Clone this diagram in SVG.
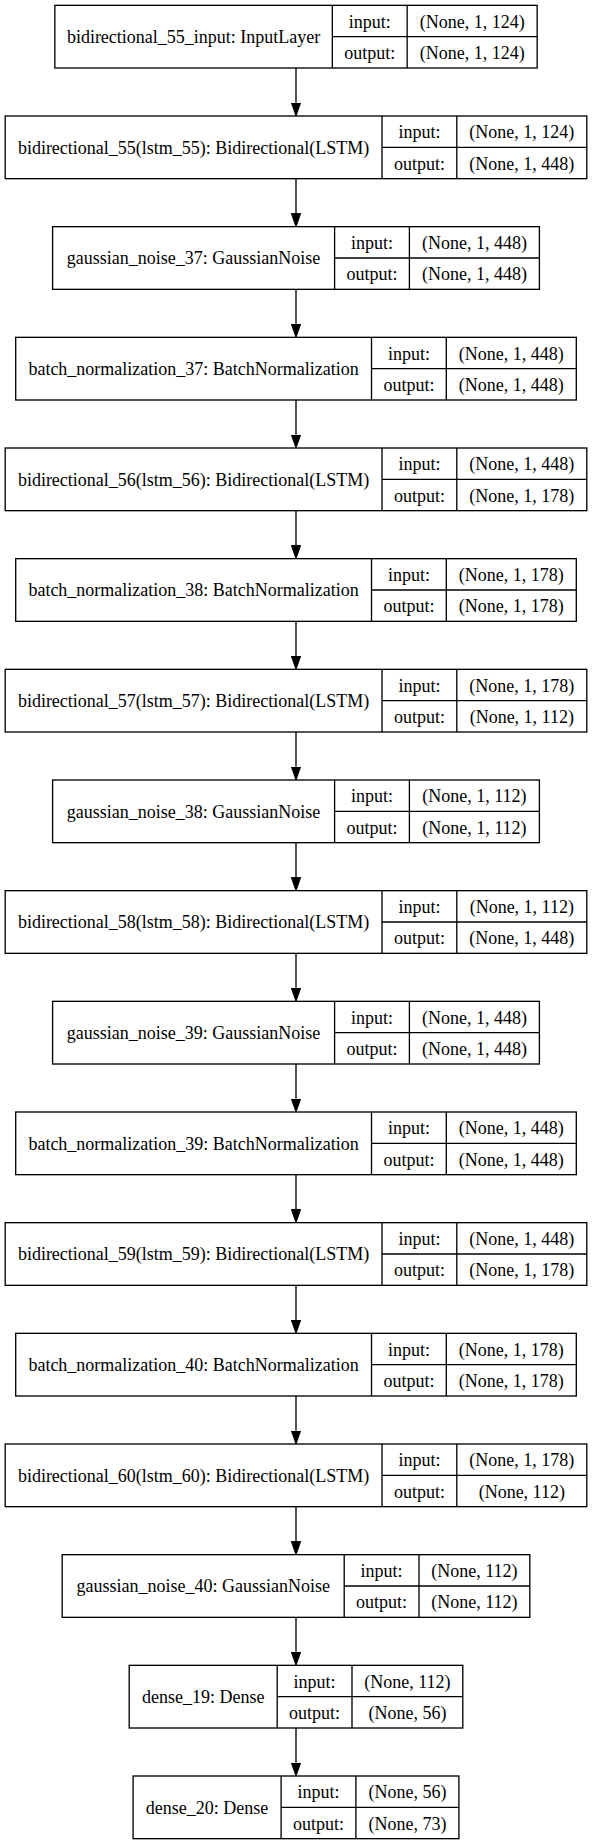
<svg xmlns="http://www.w3.org/2000/svg" width="592" height="1844" viewBox="0 0 592 1844">
<style>
rect{fill:#fff;stroke:#000;stroke-width:1.33}
line{stroke:#000;stroke-width:1.33}
text{font-family:'Liberation Serif','DejaVu Serif',serif;font-size:18px;fill:#000;text-anchor:middle}
.e{stroke:#000;stroke-width:1.33;fill:none;marker-end:url(#ah)}
</style>
<defs>
<marker id="ah" markerUnits="userSpaceOnUse" markerWidth="13.33" markerHeight="9.33" viewBox="0 0 13.33 9.33" refX="0" refY="4.67" orient="auto">
<path d="M0,0 L13.33,4.67 L0,9.33 z" fill="#000" stroke="#000" stroke-width="1"/>
</marker>
</defs>
<rect x="0" y="0" width="592" height="1844" style="fill:#fff;stroke:none"/>
<g id="connectors">
<path class="e" d="M296,68 V102.67"/>
<path class="e" d="M296,178.67 V213.33"/>
<path class="e" d="M296,289.33 V324"/>
<path class="e" d="M296,400 V434.67"/>
<path class="e" d="M296,510.67 V545.33"/>
<path class="e" d="M296,621.33 V656"/>
<path class="e" d="M296,732 V766.67"/>
<path class="e" d="M296,842.67 V877.33"/>
<path class="e" d="M296,953.33 V988"/>
<path class="e" d="M296,1064 V1098.67"/>
<path class="e" d="M296,1174.67 V1209.33"/>
<path class="e" d="M296,1285.33 V1320"/>
<path class="e" d="M296,1396 V1430.67"/>
<path class="e" d="M296,1506.67 V1541.33"/>
<path class="e" d="M296,1617.33 V1652"/>
<path class="e" d="M296,1728 V1762.67"/>
</g>
<g font-family="Liberation Serif, DejaVu Serif, serif">
<g id="n0" transform="translate(0,5.33)">
<rect x="54.85" y="0" width="482.3" height="62.67"/>
<line x1="332.35" y1="0" x2="332.35" y2="62.67"/><line x1="407.15" y1="0" x2="407.15" y2="62.67"/><line x1="332.35" y1="31.33" x2="537.15" y2="31.33"/>
<text x="193.6" y="37.8">bidirectional_55_input: InputLayer</text>
<text x="369.75" y="22.2">input:</text><text x="369.75" y="53.5">output:</text>
<text x="472.15" y="22.2">(None, 1, 124)</text><text x="472.15" y="53.5">(None, 1, 124)</text>
</g>
<g id="n1" transform="translate(0,116)">
<rect x="5.2" y="0" width="581.6" height="62.67"/>
<line x1="382" y1="0" x2="382" y2="62.67"/><line x1="456.8" y1="0" x2="456.8" y2="62.67"/><line x1="382" y1="31.33" x2="586.8" y2="31.33"/>
<text x="193.6" y="37.8">bidirectional_55(lstm_55): Bidirectional(LSTM)</text>
<text x="419.4" y="22.2">input:</text><text x="419.4" y="53.5">output:</text>
<text x="521.8" y="22.2">(None, 1, 124)</text><text x="521.8" y="53.5">(None, 1, 448)</text>
</g>
<g id="n2" transform="translate(0,226.67)">
<rect x="52.6" y="0" width="486.8" height="62.67"/>
<line x1="334.6" y1="0" x2="334.6" y2="62.67"/><line x1="409.4" y1="0" x2="409.4" y2="62.67"/><line x1="334.6" y1="31.33" x2="539.4" y2="31.33"/>
<text x="193.6" y="37.8">gaussian_noise_37: GaussianNoise</text>
<text x="372" y="22.2">input:</text><text x="372" y="53.5">output:</text>
<text x="474.4" y="22.2">(None, 1, 448)</text><text x="474.4" y="53.5">(None, 1, 448)</text>
</g>
<g id="n3" transform="translate(0,337.33)">
<rect x="15.7" y="0" width="560.6" height="62.67"/>
<line x1="371.5" y1="0" x2="371.5" y2="62.67"/><line x1="446.3" y1="0" x2="446.3" y2="62.67"/><line x1="371.5" y1="31.33" x2="576.3" y2="31.33"/>
<text x="193.6" y="37.8">batch_normalization_37: BatchNormalization</text>
<text x="408.9" y="22.2">input:</text><text x="408.9" y="53.5">output:</text>
<text x="511.3" y="22.2">(None, 1, 448)</text><text x="511.3" y="53.5">(None, 1, 448)</text>
</g>
<g id="n4" transform="translate(0,448)">
<rect x="5.2" y="0" width="581.6" height="62.67"/>
<line x1="382" y1="0" x2="382" y2="62.67"/><line x1="456.8" y1="0" x2="456.8" y2="62.67"/><line x1="382" y1="31.33" x2="586.8" y2="31.33"/>
<text x="193.6" y="37.8">bidirectional_56(lstm_56): Bidirectional(LSTM)</text>
<text x="419.4" y="22.2">input:</text><text x="419.4" y="53.5">output:</text>
<text x="521.8" y="22.2">(None, 1, 448)</text><text x="521.8" y="53.5">(None, 1, 178)</text>
</g>
<g id="n5" transform="translate(0,558.67)">
<rect x="15.7" y="0" width="560.6" height="62.67"/>
<line x1="371.5" y1="0" x2="371.5" y2="62.67"/><line x1="446.3" y1="0" x2="446.3" y2="62.67"/><line x1="371.5" y1="31.33" x2="576.3" y2="31.33"/>
<text x="193.6" y="37.8">batch_normalization_38: BatchNormalization</text>
<text x="408.9" y="22.2">input:</text><text x="408.9" y="53.5">output:</text>
<text x="511.3" y="22.2">(None, 1, 178)</text><text x="511.3" y="53.5">(None, 1, 178)</text>
</g>
<g id="n6" transform="translate(0,669.33)">
<rect x="5.2" y="0" width="581.6" height="62.67"/>
<line x1="382" y1="0" x2="382" y2="62.67"/><line x1="456.8" y1="0" x2="456.8" y2="62.67"/><line x1="382" y1="31.33" x2="586.8" y2="31.33"/>
<text x="193.6" y="37.8">bidirectional_57(lstm_57): Bidirectional(LSTM)</text>
<text x="419.4" y="22.2">input:</text><text x="419.4" y="53.5">output:</text>
<text x="521.8" y="22.2">(None, 1, 178)</text><text x="521.8" y="53.5">(None, 1, 112)</text>
</g>
<g id="n7" transform="translate(0,780)">
<rect x="52.6" y="0" width="486.8" height="62.67"/>
<line x1="334.6" y1="0" x2="334.6" y2="62.67"/><line x1="409.4" y1="0" x2="409.4" y2="62.67"/><line x1="334.6" y1="31.33" x2="539.4" y2="31.33"/>
<text x="193.6" y="37.8">gaussian_noise_38: GaussianNoise</text>
<text x="372" y="22.2">input:</text><text x="372" y="53.5">output:</text>
<text x="474.4" y="22.2">(None, 1, 112)</text><text x="474.4" y="53.5">(None, 1, 112)</text>
</g>
<g id="n8" transform="translate(0,890.67)">
<rect x="5.2" y="0" width="581.6" height="62.67"/>
<line x1="382" y1="0" x2="382" y2="62.67"/><line x1="456.8" y1="0" x2="456.8" y2="62.67"/><line x1="382" y1="31.33" x2="586.8" y2="31.33"/>
<text x="193.6" y="37.8">bidirectional_58(lstm_58): Bidirectional(LSTM)</text>
<text x="419.4" y="22.2">input:</text><text x="419.4" y="53.5">output:</text>
<text x="521.8" y="22.2">(None, 1, 112)</text><text x="521.8" y="53.5">(None, 1, 448)</text>
</g>
<g id="n9" transform="translate(0,1001.33)">
<rect x="52.6" y="0" width="486.8" height="62.67"/>
<line x1="334.6" y1="0" x2="334.6" y2="62.67"/><line x1="409.4" y1="0" x2="409.4" y2="62.67"/><line x1="334.6" y1="31.33" x2="539.4" y2="31.33"/>
<text x="193.6" y="37.8">gaussian_noise_39: GaussianNoise</text>
<text x="372" y="22.2">input:</text><text x="372" y="53.5">output:</text>
<text x="474.4" y="22.2">(None, 1, 448)</text><text x="474.4" y="53.5">(None, 1, 448)</text>
</g>
<g id="n10" transform="translate(0,1112)">
<rect x="15.7" y="0" width="560.6" height="62.67"/>
<line x1="371.5" y1="0" x2="371.5" y2="62.67"/><line x1="446.3" y1="0" x2="446.3" y2="62.67"/><line x1="371.5" y1="31.33" x2="576.3" y2="31.33"/>
<text x="193.6" y="37.8">batch_normalization_39: BatchNormalization</text>
<text x="408.9" y="22.2">input:</text><text x="408.9" y="53.5">output:</text>
<text x="511.3" y="22.2">(None, 1, 448)</text><text x="511.3" y="53.5">(None, 1, 448)</text>
</g>
<g id="n11" transform="translate(0,1222.67)">
<rect x="5.2" y="0" width="581.6" height="62.67"/>
<line x1="382" y1="0" x2="382" y2="62.67"/><line x1="456.8" y1="0" x2="456.8" y2="62.67"/><line x1="382" y1="31.33" x2="586.8" y2="31.33"/>
<text x="193.6" y="37.8">bidirectional_59(lstm_59): Bidirectional(LSTM)</text>
<text x="419.4" y="22.2">input:</text><text x="419.4" y="53.5">output:</text>
<text x="521.8" y="22.2">(None, 1, 448)</text><text x="521.8" y="53.5">(None, 1, 178)</text>
</g>
<g id="n12" transform="translate(0,1333.33)">
<rect x="15.7" y="0" width="560.6" height="62.67"/>
<line x1="371.5" y1="0" x2="371.5" y2="62.67"/><line x1="446.3" y1="0" x2="446.3" y2="62.67"/><line x1="371.5" y1="31.33" x2="576.3" y2="31.33"/>
<text x="193.6" y="37.8">batch_normalization_40: BatchNormalization</text>
<text x="408.9" y="22.2">input:</text><text x="408.9" y="53.5">output:</text>
<text x="511.3" y="22.2">(None, 1, 178)</text><text x="511.3" y="53.5">(None, 1, 178)</text>
</g>
<g id="n13" transform="translate(0,1444)">
<rect x="5.2" y="0" width="581.6" height="62.67"/>
<line x1="382" y1="0" x2="382" y2="62.67"/><line x1="456.8" y1="0" x2="456.8" y2="62.67"/><line x1="382" y1="31.33" x2="586.8" y2="31.33"/>
<text x="193.6" y="37.8">bidirectional_60(lstm_60): Bidirectional(LSTM)</text>
<text x="419.4" y="22.2">input:</text><text x="419.4" y="53.5">output:</text>
<text x="521.8" y="22.2">(None, 1, 178)</text><text x="521.8" y="53.5">(None, 112)</text>
</g>
<g id="n14" transform="translate(0,1554.67)">
<rect x="62.2" y="0" width="467.6" height="62.67"/>
<line x1="344.2" y1="0" x2="344.2" y2="62.67"/><line x1="419" y1="0" x2="419" y2="62.67"/><line x1="344.2" y1="31.33" x2="529.8" y2="31.33"/>
<text x="203.2" y="37.8">gaussian_noise_40: GaussianNoise</text>
<text x="381.6" y="22.2">input:</text><text x="381.6" y="53.5">output:</text>
<text x="474.4" y="22.2">(None, 112)</text><text x="474.4" y="53.5">(None, 112)</text>
</g>
<g id="n15" transform="translate(0,1665.33)">
<rect x="129.2" y="0" width="333.6" height="62.67"/>
<line x1="277.2" y1="0" x2="277.2" y2="62.67"/><line x1="352" y1="0" x2="352" y2="62.67"/><line x1="277.2" y1="31.33" x2="462.8" y2="31.33"/>
<text x="203.2" y="37.8">dense_19: Dense</text>
<text x="314.6" y="22.2">input:</text><text x="314.6" y="53.5">output:</text>
<text x="407.4" y="22.2">(None, 112)</text><text x="407.4" y="53.5">(None, 56)</text>
</g>
<g id="n16" transform="translate(0,1776)">
<rect x="133.1" y="0" width="325.8" height="62.67"/>
<line x1="281.1" y1="0" x2="281.1" y2="62.67"/><line x1="355.9" y1="0" x2="355.9" y2="62.67"/><line x1="281.1" y1="31.33" x2="458.9" y2="31.33"/>
<text x="207.1" y="37.8">dense_20: Dense</text>
<text x="318.5" y="22.2">input:</text><text x="318.5" y="53.5">output:</text>
<text x="407.4" y="22.2">(None, 56)</text><text x="407.4" y="53.5">(None, 73)</text>
</g>
</g>
</svg>
